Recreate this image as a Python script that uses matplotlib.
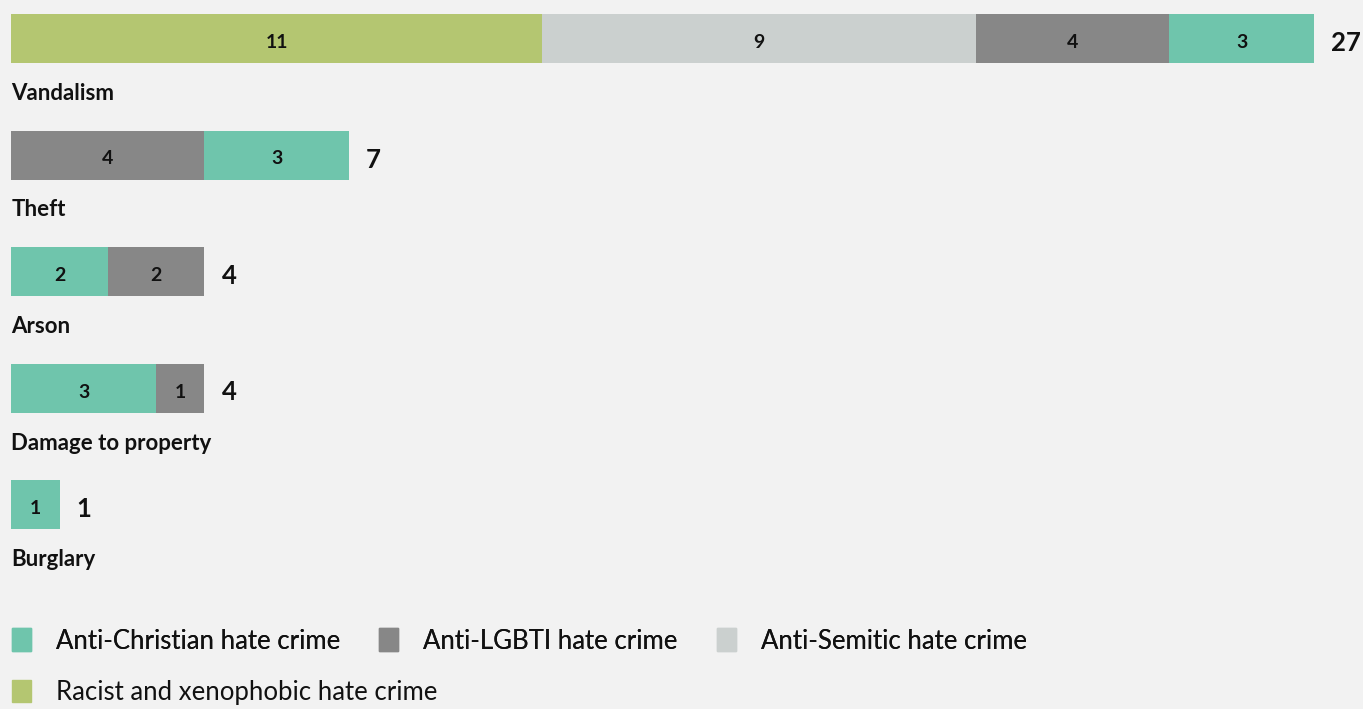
import matplotlib
matplotlib.use('Agg')
import matplotlib.pyplot as plt
from matplotlib.patches import Patch

plt.rcParams['font.family'] = ['Lato', 'DejaVu Sans']

# data
categories = ['Vandalism', 'Theft', 'Arson', 'Damage to property', 'Burglary']
christian = [3, 3, 2, 3, 1]
lgbti = [4, 4, 2, 1, 0]
semitic = [9, 0, 0, 0, 0]
racist = [11, 0, 0, 0, 0]
# order of the segments inside each bar, left to right
seg_order = [['racist', 'semitic', 'lgbti', 'christian'],
             ['lgbti', 'christian'],
             ['christian', 'lgbti'],
             ['christian', 'lgbti'],
             ['christian']]

series = {'christian': christian, 'lgbti': lgbti, 'semitic': semitic, 'racist': racist}
colors = {'christian': '#6fc5ac', 'lgbti': '#878787', 'semitic': '#cbd0cf', 'racist': '#b4c671'}
names = {'christian': 'Anti-Christian hate crime', 'lgbti': 'Anti-LGBTI hate crime',
         'semitic': 'Anti-Semitic hate crime', 'racist': 'Racist and xenophobic hate crime'}

bg = '#f2f2f2'
W, H = 1363, 709
fig = plt.figure(figsize=(W / 100, H / 100), dpi=100, facecolor=bg)
ax = fig.add_axes([0, 0, 1, 1])
ax.set_facecolor(bg)

# scale: px per unit and row pitch
x0, ux = 11.5, 48.25
y0, uy = 38.5, 116.5
ax.set_xlim(-x0 / ux, (W - x0) / ux)
ax.set_ylim((H - y0) / uy, -y0 / uy)
ax.axis('off')

for i, cat in enumerate(categories):
    left = 0
    for key in seg_order[i]:
        v = series[key][i]
        ax.barh(i, v, left=left, height=49 / uy, color=colors[key], linewidth=0)
        ax.text(left + v / 2, i + 9.5 / uy, str(v), ha='center', va='baseline',
                fontsize=14, fontweight='bold', color='#111111')
        left += v
    ax.text(left + 17 / ux, i + 12.5 / uy, str(left), ha='left', va='baseline',
            fontsize=18.5, fontweight='bold', color='#111111')
    ax.text(0, i + 61.5 / uy, cat, ha='left', va='baseline',
            fontsize=16, fontweight='bold', color='#111111')

# legend, two rows
row1 = ['christian', 'lgbti', 'semitic']
row2 = ['racist']
fs = 18.5
leg_kw = dict(frameon=False, fontsize=fs, handlelength=19 / (fs * 1.389),
              handleheight=25 / (fs * 1.389), handletextpad=25 / (fs * 1.389),
              columnspacing=39 / (fs * 1.389), borderpad=0, borderaxespad=0,
              labelcolor='#111111')
l1 = fig.legend([Patch(color=colors[k]) for k in row1], [names[k] for k in row1],
                loc='center left', bbox_to_anchor=(12 / W, 1 - 641 / H), ncol=3, **leg_kw)
fig.add_artist(l1)
fig.legend([Patch(color=colors[k]) for k in row2], [names[k] for k in row2],
           loc='center left', bbox_to_anchor=(12 / W, 1 - 692.5 / H), ncol=1, **leg_kw)

fig.savefig('out.png', dpi=100, facecolor=bg)
